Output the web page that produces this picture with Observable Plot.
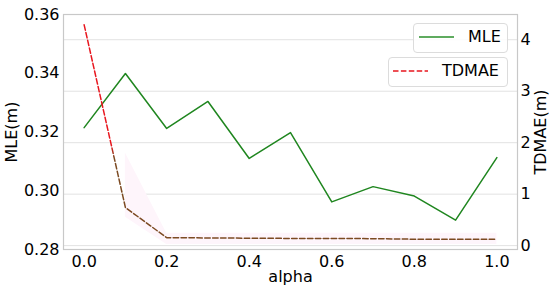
<!DOCTYPE html>
<html><head><meta charset="utf-8">
<script src="https://cdn.jsdelivr.net/npm/d3@7"></script>
<script src="https://cdn.jsdelivr.net/npm/@observablehq/plot@0.6"></script>
<style>
body{margin:0;background:#fff;font-family:"DejaVu Sans",sans-serif;}
#wrap{position:relative;width:550px;height:291px;}
.leg{position:absolute;background:rgba(255,255,255,0.85);border:1px solid #dcdcdc;border-radius:4px;box-sizing:border-box;font-size:16px;color:#000;}
.leg svg{position:absolute;left:0;top:0;}
.leg span{position:absolute;line-height:16px;}
</style></head><body><div id="wrap"></div>
<script>
const alpha = [0.0, 0.1, 0.2, 0.3, 0.4, 0.5, 0.6, 0.7, 0.8, 0.9, 1.0];
const mle = [0.3215, 0.3399, 0.3212, 0.3304, 0.3110, 0.3198, 0.2962, 0.3014, 0.2982, 0.2900, 0.3113];
const tdmae = [4.29, 0.74, 0.155, 0.15, 0.145, 0.14, 0.14, 0.135, 0.125, 0.125, 0.125];
const bandAlpha = [0.1, 0.2, 0.3, 0.4, 0.5, 0.6, 0.7, 0.8, 0.9, 1.0];
const tdmaeLow = [0.55, 0.02, 0.02, 0.02, 0.02, 0.02, 0.02, 0.02, 0.02, 0.02];
const tdmaeHigh = [1.8, 0.24, 0.24, 0.24, 0.24, 0.24, 0.24, 0.24, 0.24, 0.24];
const xTicks = [0.0, 0.2, 0.4, 0.6, 0.8, 1.0];
const mleTicks = [0.28, 0.30, 0.32, 0.34, 0.36];
const tdTicks = [0, 1, 2, 3, 4];

const mleDomain = [0.28, 0.36];
const tdDomain = [-0.075, 4.49];
const toLeft = d3.scaleLinear().domain(tdDomain).range(mleDomain);

const rows = alpha.map((a, i) => ({a, mle: mle[i], td: tdmae[i]}));
const band = bandAlpha.map((a, i) => ({a, lo: tdmaeLow[i], hi: tdmaeHigh[i]}));

const plot = Plot.plot({
  width: 550, height: 291,
  marginLeft: 63, marginRight: 33, marginTop: 14, marginBottom: 42,
  style: {fontFamily: "DejaVu Sans, sans-serif", fontSize: "16px", color: "#000", background: "#fff"},
  x: {domain: [-0.05, 1.05]},
  y: {domain: mleDomain},
  marks: [
    Plot.gridY(tdTicks.map(d => toLeft(d)), {stroke: "#e2e2e2", strokeOpacity: 1}),
    Plot.areaY(band, {x: "a", y1: d => toLeft(d.lo), y2: d => toLeft(d.hi), fill: "#fef5fb", fillOpacity: 1}),
    Plot.frame({stroke: "#c8c8c8", strokeWidth: 1.2}),
    Plot.line(rows, {x: "a", y: "mle", stroke: "#1f861f", strokeWidth: 1.5}),
    Plot.line(rows, {x: "a", y: d => toLeft(d.td), stroke: "url(#tdgrad)", strokeWidth: 1.5, strokeDasharray: "5.5,2.4"}),
    Plot.axisX(xTicks, {tickSize: 0, tickPadding: 6, tickFormat: d => d.toFixed(1), label: null, fill: "#000"}),
    Plot.axisY(mleTicks, {anchor: "left", tickSize: 0, tickPadding: 4, tickFormat: d => d.toFixed(2), label: null, fill: "#000"}),
    Plot.axisY(tdTicks.map(d => toLeft(d)), {anchor: "right", tickSize: 0, tickPadding: 3, tickFormat: d => String(Math.round(toLeft.invert(d))), label: null, fill: "#000"}),
    Plot.text(["alpha"], {frameAnchor: "bottom", dy: 27, lineAnchor: "middle", fill: "#000"}),
    Plot.text(["MLE(m)"], {frameAnchor: "left", dx: -52, rotate: -90, textAnchor: "middle", lineAnchor: "middle", fill: "#000"}),
    Plot.text(["TDMAE(m)"], {frameAnchor: "right", dx: 23, rotate: -90, textAnchor: "middle", lineAnchor: "middle", fill: "#000"})
  ]
});

const ns = "http://www.w3.org/2000/svg";
const svg = plot.tagName.toLowerCase() === "svg" ? plot : plot.querySelector("svg");
const defs = document.createElementNS(ns, "defs");
defs.innerHTML = '<linearGradient id="tdgrad" x1="0" y1="0" x2="0" y2="1">' +
  '<stop offset="0" stop-color="#e8161e"/><stop offset="0.56" stop-color="#e8161e"/>' +
  '<stop offset="0.62" stop-color="#7c4a22"/><stop offset="1" stop-color="#7c4a22"/></linearGradient>';
svg.insertBefore(defs, svg.firstChild);

const wrap = document.getElementById("wrap");
wrap.appendChild(plot);

function legend(left, top, w, h, label, color, dash, lineX, textX) {
  const box = document.createElement("div");
  box.className = "leg";
  box.style.left = left + "px"; box.style.top = top + "px";
  box.style.width = w + "px"; box.style.height = h + "px";
  const s = document.createElementNS(ns, "svg");
  s.setAttribute("width", w); s.setAttribute("height", h);
  const ln = document.createElementNS(ns, "line");
  ln.setAttribute("x1", lineX); ln.setAttribute("x2", lineX + 35);
  ln.setAttribute("y1", h / 2 - 2); ln.setAttribute("y2", h / 2 - 2);
  ln.setAttribute("stroke", color); ln.setAttribute("stroke-width", 1.5);
  if (dash) ln.setAttribute("stroke-dasharray", dash);
  s.appendChild(ln);
  box.appendChild(s);
  const t = document.createElement("span");
  t.textContent = label;
  t.style.left = textX + "px"; t.style.top = (h / 2 - 10) + "px";
  box.appendChild(t);
  wrap.appendChild(box);
}
legend(413, 23, 95, 30, "MLE", "#2a8f2a", null, 5, 54);
legend(388, 57, 120, 30, "TDMAE", "#e8161e", "5.5,2.4", 4, 53);
</script>
</body></html>
